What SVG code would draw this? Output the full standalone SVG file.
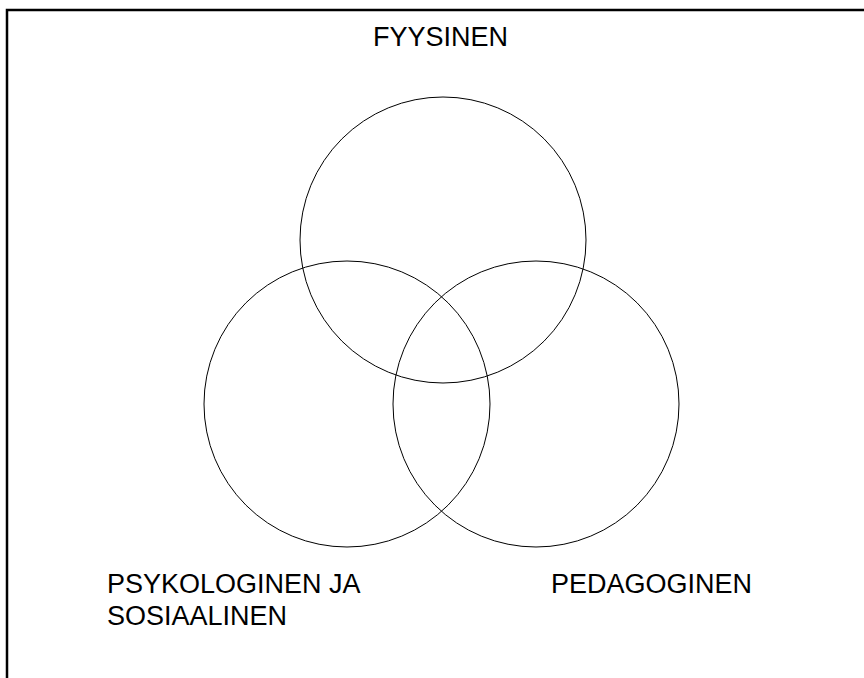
<svg xmlns="http://www.w3.org/2000/svg" width="864" height="678" viewBox="0 0 864 678">
<style>
.c{fill:none;stroke:#000;stroke-width:1}
.t{font-family:"Liberation Sans",Arial,sans-serif;font-size:27px;fill:#000}
</style>
<rect width="864" height="678" fill="#fff"/>
<path d="M7,678 V10 H864" fill="none" stroke="#000" stroke-width="2.5"/>
<g id="fyysinen"><circle class="c" cx="443" cy="240" r="143"/><text class="t" x="373" y="46">FYYSINEN</text></g>
<g id="psykologinen"><circle class="c" cx="347" cy="404" r="143"/><text class="t" x="107" y="593">PSYKOLOGINEN JA</text><text class="t" x="107" y="625">SOSIAALINEN</text></g>
<g id="pedagoginen"><circle class="c" cx="536" cy="404" r="143"/><text class="t" x="551" y="593">PEDAGOGINEN</text></g>
<g id="connectors"/>
</svg>
